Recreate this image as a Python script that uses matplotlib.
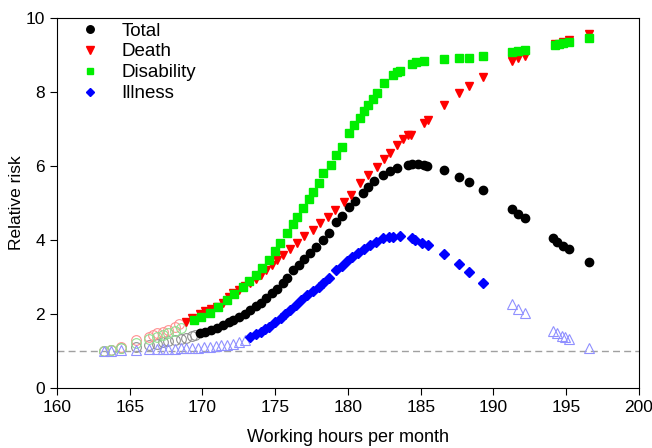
import matplotlib
matplotlib.use('Agg')
import matplotlib.pyplot as plt

plt.rcParams['font.family'] = ['Liberation Sans', 'DejaVu Sans']

# Total
total_x = [169.8, 170.2, 170.6, 171.0, 171.4, 171.8, 172.1, 172.5, 172.9, 173.3, 173.7, 174.0,
           174.4, 174.8, 175.1, 175.5, 175.8, 176.2, 176.6, 177.0, 177.4, 177.8, 178.3, 178.7,
           179.2, 179.6, 180.1, 180.5, 181.0, 181.4, 181.8, 182.4, 182.9, 183.4, 184.1, 184.4,
           184.8, 185.2, 185.4, 186.6, 187.6, 188.3, 189.3, 191.3, 191.7, 192.2, 194.1, 194.4,
           194.8, 195.2, 196.6]
total_y = [1.49, 1.52, 1.56, 1.62, 1.69, 1.77, 1.84, 1.92, 2.01, 2.11, 2.21, 2.30,
           2.43, 2.56, 2.68, 2.84, 2.97, 3.19, 3.33, 3.49, 3.65, 3.80, 4.00, 4.20,
           4.49, 4.66, 4.89, 5.05, 5.27, 5.42, 5.58, 5.76, 5.87, 5.95, 6.03, 6.04,
           6.04, 6.03, 6.00, 5.89, 5.70, 5.57, 5.35, 4.84, 4.70, 4.59, 4.05, 3.95,
           3.84, 3.76, 3.41]
total_open_x = [163.2, 163.7, 164.4, 165.4, 166.3, 166.9, 167.3, 167.6, 168.1, 168.5, 168.9, 169.3, 169.5]
total_open_y = [1.00, 1.02, 1.07, 1.10, 1.17, 1.20, 1.24, 1.27, 1.30, 1.33, 1.36, 1.40, 1.42]

# Death
death_x = [168.9, 169.3, 169.8, 170.2, 170.6, 171.0, 171.4, 171.8, 172.1, 172.5, 172.9, 173.3,
           173.7, 174.0, 174.4, 174.8, 175.1, 175.5, 176.0, 176.5, 177.0, 177.6, 178.1, 178.6,
           179.1, 179.7, 180.2, 180.8, 181.4, 182.0, 182.5, 182.9, 183.4, 183.8, 184.1, 184.3,
           185.2, 185.5, 186.6, 187.6, 188.3, 189.3, 191.3, 191.7, 192.2, 194.2, 194.8, 195.2,
           196.6]
death_y = [1.78, 1.88, 2.00, 2.07, 2.13, 2.19, 2.30, 2.45, 2.57, 2.66, 2.75, 2.84,
           2.95, 3.06, 3.19, 3.33, 3.45, 3.59, 3.75, 3.92, 4.10, 4.27, 4.45, 4.62,
           4.80, 5.03, 5.22, 5.54, 5.76, 5.97, 6.18, 6.35, 6.57, 6.72, 6.84, 6.84,
           7.16, 7.24, 7.65, 7.97, 8.16, 8.41, 8.84, 8.92, 8.97, 9.30, 9.35, 9.40,
           9.57]
death_open_x = [163.2, 163.7, 164.4, 165.4, 166.3, 166.6, 166.9, 167.3, 167.6, 168.1, 168.4]
death_open_y = [1.00, 1.03, 1.12, 1.30, 1.38, 1.42, 1.48, 1.52, 1.57, 1.65, 1.72]

# Disability
dis_x = [169.4, 169.9, 170.5, 171.1, 171.7, 172.2, 172.8, 173.2, 173.7, 174.1, 174.6, 175.0,
         175.3, 175.8, 176.2, 176.5, 176.9, 177.3, 177.6, 178.0, 178.3, 178.8, 179.2, 179.6,
         180.1, 180.4, 180.8, 181.1, 181.4, 181.7, 182.0, 182.5, 183.1, 183.4, 183.6, 184.4,
         184.7, 185.2, 186.6, 187.6, 188.3, 189.3, 191.3, 191.7, 192.2, 194.2, 194.5, 194.8,
         195.2, 196.6]
dis_y = [1.84, 1.93, 2.03, 2.20, 2.38, 2.55, 2.73, 2.88, 3.05, 3.25, 3.46, 3.70,
         3.92, 4.19, 4.42, 4.62, 4.86, 5.10, 5.30, 5.55, 5.81, 6.03, 6.30, 6.51,
         6.89, 7.10, 7.30, 7.48, 7.65, 7.82, 7.97, 8.24, 8.46, 8.54, 8.56, 8.76,
         8.80, 8.84, 8.89, 8.92, 8.92, 8.97, 9.08, 9.11, 9.14, 9.27, 9.30, 9.32,
         9.35, 9.46]
dis_open_x = [163.2, 163.7, 164.4, 165.4, 166.3, 166.9, 167.3, 167.6, 168.1, 168.5]
dis_open_y = [1.00, 1.02, 1.08, 1.22, 1.32, 1.38, 1.43, 1.48, 1.55, 1.62]

# Illness
ill_x = [173.3, 173.7, 174.0, 174.3, 174.6, 175.0, 175.4, 175.7, 176.0, 176.4, 176.8, 177.2,
         177.6, 178.0, 178.3, 178.7, 179.2, 179.6, 179.9, 180.3, 180.7, 181.1, 181.5, 181.9,
         182.4, 182.8, 183.1, 183.6, 184.4, 184.6, 185.1, 185.5, 186.6, 187.6, 188.3, 189.3]
ill_y = [1.38, 1.45, 1.52, 1.60, 1.65, 1.78, 1.90, 2.00, 2.10, 2.23, 2.37, 2.50,
         2.62, 2.74, 2.84, 2.97, 3.19, 3.30, 3.43, 3.54, 3.65, 3.76, 3.86, 3.95,
         4.05, 4.08, 4.08, 4.10, 4.05, 4.00, 3.92, 3.86, 3.62, 3.35, 3.14, 2.84]
ill_open_x = [163.2, 163.7, 164.4, 165.4, 166.3, 166.9, 167.3, 167.6, 168.1, 168.5, 168.9, 169.3,
              169.7, 170.1, 170.5, 170.9, 171.3, 171.7, 172.1, 172.5, 172.9, 191.3, 191.7, 192.2,
              194.1, 194.4, 194.7, 194.9, 195.2, 196.6]
ill_open_y = [1.00, 1.01, 1.03, 1.03, 1.04, 1.05, 1.05, 1.06, 1.06, 1.07, 1.07, 1.08,
              1.09, 1.10, 1.11, 1.13, 1.15, 1.17, 1.20, 1.24, 1.30, 2.27, 2.13, 2.03,
              1.54, 1.49, 1.41, 1.38, 1.32, 1.08]

fig = plt.figure(figsize=(6.52, 4.48), dpi=100)
ax = fig.add_axes([0.0874, 0.134, 0.8926, 0.826])

ax.axhline(1, color='#a0a0a0', linestyle='--', linewidth=1, dashes=(5, 3), zorder=1)

# hollow points
ax.plot(total_open_x, total_open_y, 'o', mfc='none', mec='#909090', ms=7, mew=0.8, zorder=2)
ax.plot(death_open_x, death_open_y, 'o', mfc='none', mec='#ff9090', ms=7, mew=0.8, zorder=2)
ax.plot(dis_open_x, dis_open_y, 'o', mfc='none', mec='#90e090', ms=7, mew=0.8, zorder=2)
ax.plot(ill_open_x, ill_open_y, '^', mfc='none', mec='#9090ff', ms=7, mew=0.8, zorder=2)

# filled points
ax.plot(total_x, total_y, 'o', color='black', ms=6, label='Total', zorder=3)
ax.plot(death_x, death_y, 'v', color='#ff0000', ms=6, label='Death', zorder=3)
ax.plot(dis_x, dis_y, 's', color='#00ee00', ms=5.5, label='Disability', zorder=3)
ax.plot(ill_x, ill_y, 'D', color='#0000ff', ms=5, label='Illness', zorder=3)

ax.set_xlim(160, 200)
ax.set_ylim(0, 10)
ax.set_xticks(range(160, 201, 5))
ax.set_yticks(range(0, 11, 2))
ax.tick_params(direction='out', labelsize=12.5, length=5)
ax.set_xlabel('Working hours per month', fontsize=13, labelpad=10)
ax.set_ylabel('Relative risk', fontsize=12.5, labelpad=1)

ax.legend(loc='upper left', bbox_to_anchor=(0.011, 1.008), frameon=False, fontsize=13.5,
          handletextpad=0.7, borderaxespad=0.1, labelspacing=0.2, markerscale=0.9,
          borderpad=0.3, handlelength=2.0)

plt.savefig('out.png', dpi=100)
